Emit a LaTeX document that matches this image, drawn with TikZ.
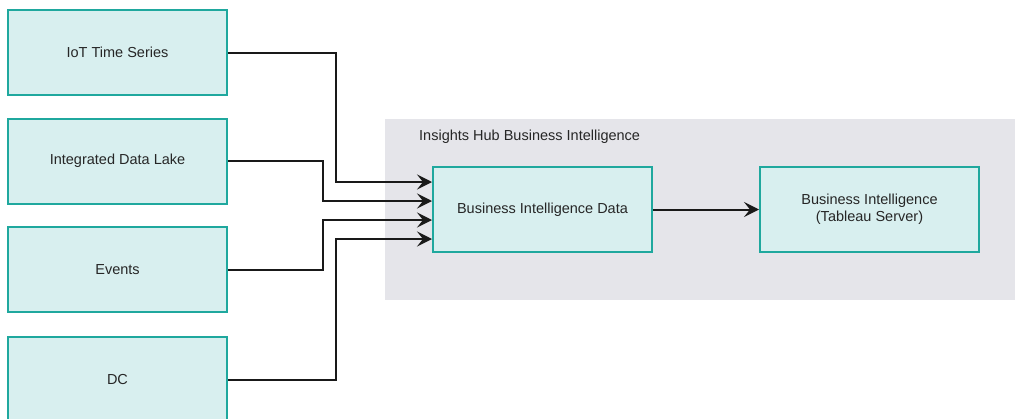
\documentclass[tikz,border=0pt]{standalone}
\usepackage{fontspec}
\setmainfont{Liberation Sans}
\usetikzlibrary{arrows.meta}
\definecolor{boxfill}{HTML}{D8EFEF}
\definecolor{boxline}{HTML}{1FA89E}
\definecolor{groupfill}{HTML}{E5E5EA}
\definecolor{txt}{HTML}{262626}
\begin{document}
\begin{tikzpicture}[x=1pt,y=-1pt,
  box/.style={draw=boxline,fill=boxfill,line width=2pt,minimum width=219pt,minimum height=85pt,inner sep=0pt,font=\fontsize{14.5}{17}\selectfont,text=txt,align=center},
  conn/.style={line width=2pt,draw=black!90,-{Stealth[length=15pt,width=15pt,inset=6pt]}}
]
\useasboundingbox (0,0) rectangle (1015,418);
\fill[groupfill] (385,119) rectangle (1015,300);
\node[anchor=west,font=\fontsize{14.5}{17}\selectfont,text=txt,inner sep=0pt] (grp) at (419,137) {Insights Hub Business Intelligence};
\node[box] (iot) at (117.5,52.5) {IoT Time Series};
\node[box] (idl) at (117.5,161) {Integrated Data Lake};
\node[box] (ev) at (117.5,269.5) {Events};
\begin{scope}
\clip (0,0) rectangle (1015,418);
\node[box] (dc) at (117.5,379.5) {DC};
\end{scope}
\node[box] (bid) at (542.5,209.5) {Business Intelligence Data};
\node[box] (tab) at (869.5,209.5) {Business Intelligence\\(Tableau Server)};
\draw[conn] (iot.east) -| (336,182) -- (bid.west |- 0,182);
\draw[conn] (idl.east) -| (323,201) -- (bid.west |- 0,201);
\draw[conn] (ev.east) -| (323,220) -- (bid.west |- 0,220);
\draw[conn] (dc.east) -| (336,239) -- (bid.west |- 0,239);
\draw[conn] (bid.east) -- (tab.west);
\end{tikzpicture}
\end{document}
